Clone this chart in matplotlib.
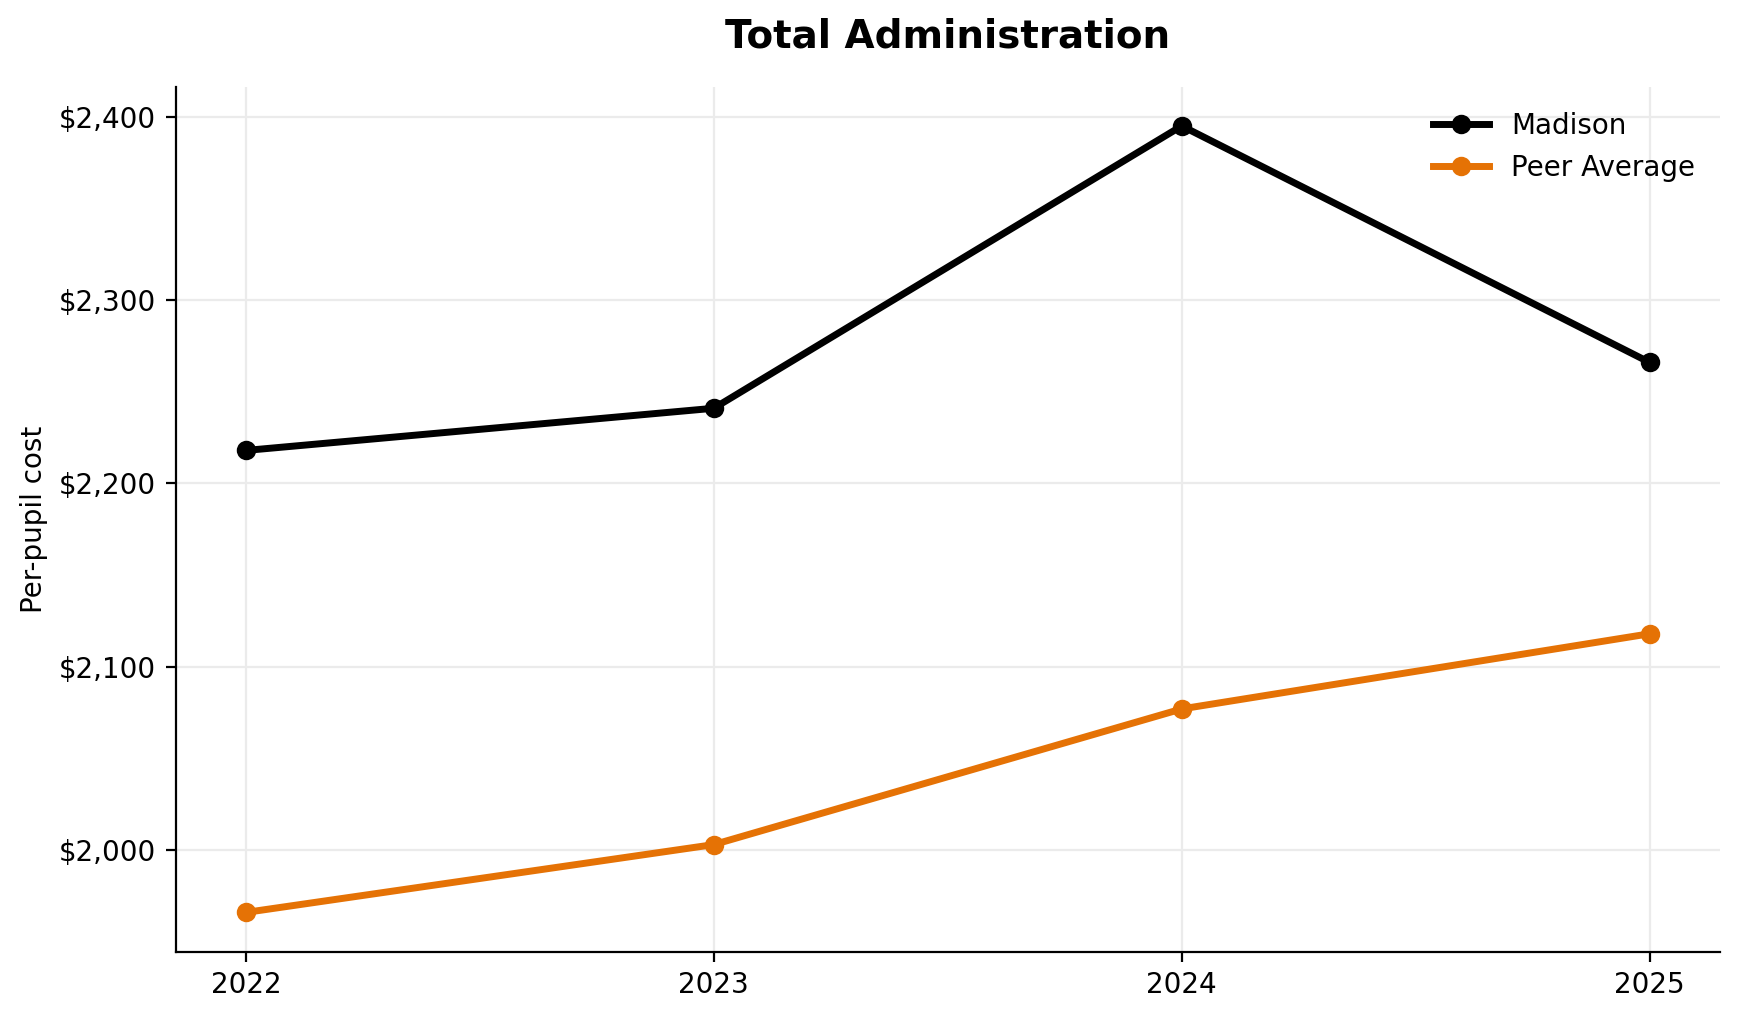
import matplotlib
matplotlib.use("Agg")
import matplotlib.pyplot as plt
from matplotlib.ticker import FuncFormatter

years = [2022, 2023, 2024, 2025]
madison = [2218, 2241, 2395, 2266]
peer_avg = [1966, 2003, 2077, 2118]

fig, ax = plt.subplots(figsize=(8.695, 5.095), dpi=200)
fig.subplots_adjust(left=0.101, right=0.989, top=0.915, bottom=0.066)

ax.plot(years, madison, color="black", lw=2.5, marker="o", ms=6, label="Madison")
ax.plot(years, peer_avg, color="#E57205", lw=2.5, marker="o", ms=6, label="Peer Average")

ax.set_xticks(years)
ax.set_xticklabels([str(y) for y in years])
ax.yaxis.set_major_formatter(FuncFormatter(lambda v, p: f"${v:,.0f}"))
ax.set_ylabel("Per-pupil cost", fontsize=10)
ax.set_title("Total Administration", fontsize=14, fontweight="bold", pad=14)
ax.tick_params(labelsize=10)
ax.grid(True, color="#ebebeb", lw=0.8)
ax.set_axisbelow(True)
for s in ["top", "right"]:
    ax.spines[s].set_visible(False)
ax.legend(loc="upper right", frameon=False, fontsize=10)

fig.savefig("out.png", dpi=200)
